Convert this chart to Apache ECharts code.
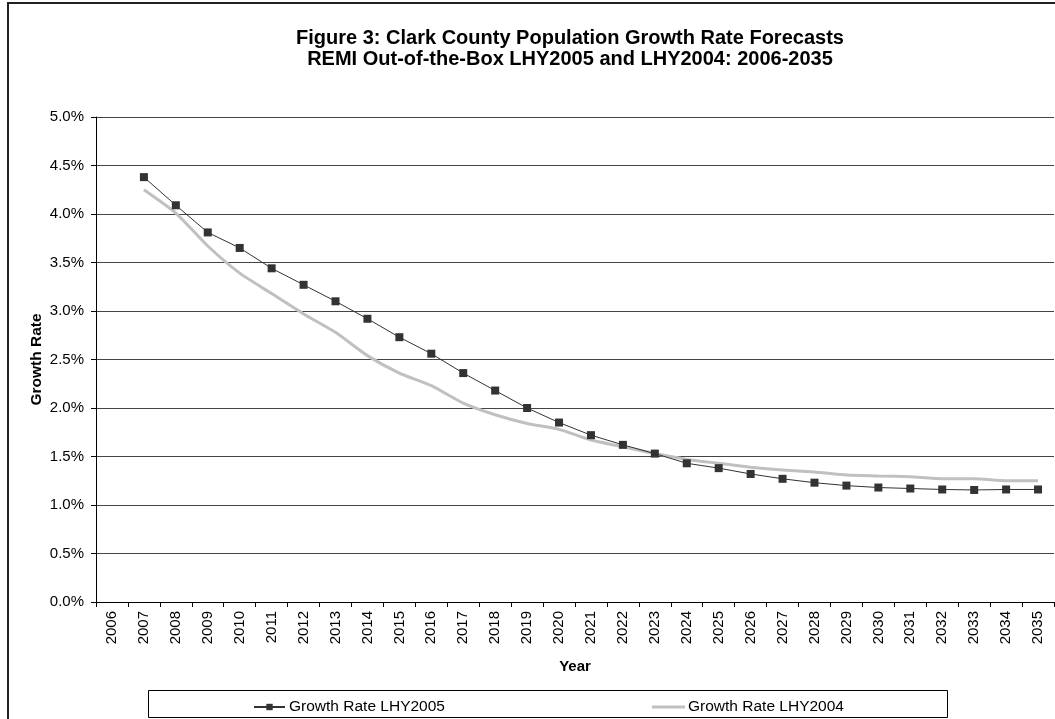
<!DOCTYPE html>
<html>
<head>
<meta charset="utf-8">
<script src="https://cdn.jsdelivr.net/npm/echarts@6/dist/echarts.min.js"></script>
<style>
  html, body { margin: 0; padding: 0; background: #fff; }
  #chart { width: 1055px; height: 719px; }
</style>
</head>
<body>
<div id="chart"></div>
<script>
// Forecast years shown on the category axis
const years = ['2006','2007','2008','2009','2010','2011','2012','2013','2014','2015',
  '2016','2017','2018','2019','2020','2021','2022','2023','2024','2025',
  '2026','2027','2028','2029','2030','2031','2032','2033','2034','2035'];

// Annual population growth rates, percent (no value for 2006)
const lhy2005 = [null, 4.38, 4.09, 3.81, 3.65, 3.44, 3.27, 3.10, 2.92, 2.73,
  2.56, 2.36, 2.18, 2.00, 1.85, 1.72, 1.62, 1.53, 1.43, 1.38,
  1.32, 1.27, 1.23, 1.20, 1.18, 1.17, 1.16, 1.155, 1.16, 1.16];

const lhy2004 = [null, 4.25, 4.01, 3.67, 3.39, 3.18, 2.97, 2.78, 2.54, 2.36,
  2.23, 2.05, 1.93, 1.84, 1.78, 1.67, 1.60, 1.53, 1.47, 1.43,
  1.39, 1.36, 1.34, 1.31, 1.30, 1.29, 1.27, 1.27, 1.25, 1.25];

const seriesNames = ['Growth Rate LHY2005', 'Growth Rate LHY2004'];

const font = 'Liberation Sans, Arial, sans-serif';

const chart = echarts.init(document.getElementById('chart'));
chart.setOption({
  animation: false,
  backgroundColor: '#fff',
  title: {
    text: 'Figure 3: Clark County Population Growth Rate Forecasts\nREMI Out-of-the-Box LHY2005 and LHY2004: 2006-2035',
    left: 565,
    textAlign: 'center',
    top: 23,
    textStyle: { fontFamily: font, fontSize: 20, fontWeight: 'bold', color: '#000', lineHeight: 21 }
  },
  grid: { left: 96, right: 1, top: 117, bottom: 117 },
  legend: [
    {
      data: [seriesNames[0]],
      left: 248, top: 694,
      itemWidth: 31, itemHeight: 8, itemGap: 4,
      textStyle: { fontFamily: font, fontSize: 15.5, color: '#000', padding: [0, 0, 0, -1] }
    },
    {
      data: [{ name: seriesNames[1], icon: 'rect' }],
      left: 647, top: 694,
      itemWidth: 33, itemHeight: 3,
      itemStyle: { color: '#c0c0c0' },
      textStyle: { fontFamily: font, fontSize: 15.5, color: '#000', padding: [0, 0, 0, -2] }
    }
  ],
  xAxis: {
    type: 'category',
    data: years,
    boundaryGap: true,
    name: 'Year',
    nameLocation: 'middle',
    nameGap: 57,
    nameTextStyle: { fontFamily: font, fontSize: 15, fontWeight: 'bold', color: '#000' },
    axisLine: { lineStyle: { color: '#000', width: 1 } },
    axisTick: { show: true, alignWithLabel: false, length: 5, lineStyle: { color: '#000' } },
    axisLabel: { rotate: 90, margin: 9, fontFamily: font, fontSize: 15, color: '#000' },
    splitLine: { show: false }
  },
  yAxis: {
    type: 'value',
    min: 0, max: 5, interval: 0.5,
    name: 'Growth Rate',
    nameLocation: 'middle',
    nameGap: 51,
    nameMoveOverlap: false,
    nameRotate: 90,
    nameTextStyle: { fontFamily: font, fontSize: 15.5, fontWeight: 'bold', color: '#000' },
    axisLine: { show: true, lineStyle: { color: '#000', width: 1 } },
    axisTick: { show: true, length: 5, lineStyle: { color: '#000' } },
    axisLabel: {
      margin: 12, fontFamily: font, fontSize: 15, color: '#000',
      formatter: v => v.toFixed(1) + '%'
    },
    splitLine: { show: true, lineStyle: { color: '#444', width: 1 } }
  },
  series: [
    {
      name: seriesNames[1],
      type: 'line',
      data: lhy2004,
      smooth: 0.2,
      showSymbol: false,
      symbol: 'none',
      lineStyle: { color: '#c0c0c0', width: 3 },
      itemStyle: { color: '#c0c0c0' },
      z: 2
    },
    {
      name: seriesNames[0],
      type: 'line',
      data: lhy2005,
      symbol: 'rect',
      symbolSize: 8,
      lineStyle: { color: '#333', width: 1 },
      itemStyle: { color: '#333' },
      z: 3
    }
  ],
  graphic: [
    {
      type: 'rect',
      shape: { x: 8, y: 3, width: 1200, height: 1000 },
      style: { fill: 'none', stroke: '#222', lineWidth: 2 },
      silent: true, z: -1
    },
    {
      type: 'rect',
      shape: { x: 148.5, y: 690.5, width: 799, height: 27 },
      style: { fill: '#fff', stroke: '#000', lineWidth: 1 },
      silent: true, z: -1
    }
  ]
});
</script>
</body>
</html>
